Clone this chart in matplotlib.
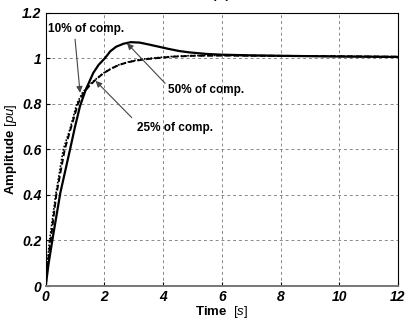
import matplotlib
matplotlib.use("Agg")
import matplotlib.pyplot as plt

plt.rcParams["font.family"] = ["Liberation Sans", "DejaVu Sans"]
plt.rcParams["mathtext.fontset"] = "custom"
plt.rcParams["mathtext.bf"] = "Liberation Sans:bold"
plt.rcParams["mathtext.it"] = "Liberation Sans:italic"
plt.rcParams["mathtext.rm"] = "Liberation Sans"

# 50% of compensation (solid)
t_50 = [0, 0.1, 0.25, 0.5, 0.83, 1.0, 1.17, 1.36, 1.62, 1.8, 2.02, 2.2, 2.4, 2.65,
        2.9, 3.2, 3.5, 3.85, 4.2, 4.55, 4.9, 5.5, 6.0, 7.0, 8.0, 10.0, 12.0]
y_50 = [0, 0.1, 0.22, 0.41, 0.6, 0.7, 0.79, 0.86, 0.935, 0.97, 1.0, 1.03, 1.05, 1.063,
        1.07, 1.068, 1.06, 1.05, 1.04, 1.031, 1.025, 1.018, 1.015, 1.012, 1.01, 1.007, 1.005]

# 25% of compensation (dashed)
t_25 = [0, 0.07, 0.17, 0.36, 0.65, 0.85, 1.1, 1.3, 1.5, 1.7, 1.96, 2.25, 2.5, 2.75, 3.0,
        3.4, 3.8, 4.3, 5.0, 6.0, 8.0, 10.0, 12.0]
y_25 = [0, 0.1, 0.2, 0.4, 0.6, 0.69, 0.8, 0.85, 0.88, 0.905, 0.933, 0.955, 0.97, 0.98, 0.987,
        0.995, 1.0, 1.006, 1.01, 1.011, 1.01, 1.008, 1.006]

# 10% of compensation (dotted)
t_10 = [0, 0.06, 0.13, 0.34, 0.6, 0.83, 1.06, 1.25, 1.5, 1.75, 2.0, 2.25, 2.5, 2.75, 3.0,
        3.4, 3.8, 4.3, 5.0, 6.0, 8.0, 10.0, 12.0]
y_10 = [0, 0.1, 0.2, 0.4, 0.6, 0.69, 0.8, 0.848, 0.885, 0.912, 0.937, 0.956, 0.971, 0.981, 0.989,
        0.997, 1.002, 1.007, 1.011, 1.012, 1.01, 1.008, 1.006]

x_ticks = [0, 2, 4, 6, 8, 10, 12]
y_ticks = [0, 0.2, 0.4, 0.6, 0.8, 1.0, 1.2]
y_ticklabels = ["0", "0.2", "0.4", "0.6", "0.8", "1", "1.2"]

fig = plt.figure(figsize=(4.06, 3.21), dpi=100)
ax = fig.add_axes([0.1126, 0.109, 0.8676, 0.852])

ax.plot(t_50, y_50, color="black", linewidth=1.6, linestyle="-")
ax.plot(t_25, y_25, color="black", linewidth=1.4, linestyle=(0, (3, 1.5)))
ax.plot(t_10, y_10, color="black", linewidth=1.2, linestyle=(0, (1, 1)))

ax.set_xlim(0, 12)
ax.set_ylim(0, 1.2)
ax.set_xticks(x_ticks)
ax.set_yticks(y_ticks)
ax.set_yticklabels(y_ticklabels)
ax.tick_params(direction="in", length=3, width=0.8, labelsize=10, pad=3)
for lab in ax.get_xticklabels() + ax.get_yticklabels():
    lab.set_fontweight("bold")
    lab.set_fontstyle("italic")

ax.grid(True, color="#888888", linestyle=(0, (3, 3)), linewidth=0.7)
for s in ["top", "right", "left"]:
    ax.spines[s].set_color("black")
ax.spines["bottom"].set_color("#777777")
ax.spines["bottom"].set_linewidth(1.4)

ax.set_xlabel(r"$\mathbf{Time}\ \ \mathit{[s]}$", fontsize=9.5, labelpad=0)
ax.set_ylabel(r"$\mathbf{Amplitude}\ \mathit{[pu]}$", fontsize=9.5, labelpad=2)

arrow = dict(arrowstyle="-|>", color="#444444", lw=0.8, mutation_scale=9, shrinkA=0, shrinkB=0)
ax.annotate("", xy=(1.17, 0.848), xytext=(1.0, 1.083), arrowprops=arrow)
ax.text(0.08, 1.127, "10% of comp.", fontsize=8.5, fontweight="bold", va="center", ha="left")

ax.annotate("", xy=(2.77, 1.065), xytext=(4.07, 0.889), arrowprops=arrow)
ax.text(4.17, 0.86, "50% of comp.", fontsize=8.5, fontweight="bold", va="center", ha="left")

ax.annotate("", xy=(1.7, 0.9), xytext=(2.93, 0.739), arrowprops=arrow)
ax.text(3.1, 0.693, "25% of comp.", fontsize=8.5, fontweight="bold", va="center", ha="left")

# figure caption, mostly cut off at the top edge as in the source
fig.text(0.544, 1 - 1 / 321, "(c)", fontsize=14, ha="center", va="bottom")

fig.savefig("out.png", dpi=100)
